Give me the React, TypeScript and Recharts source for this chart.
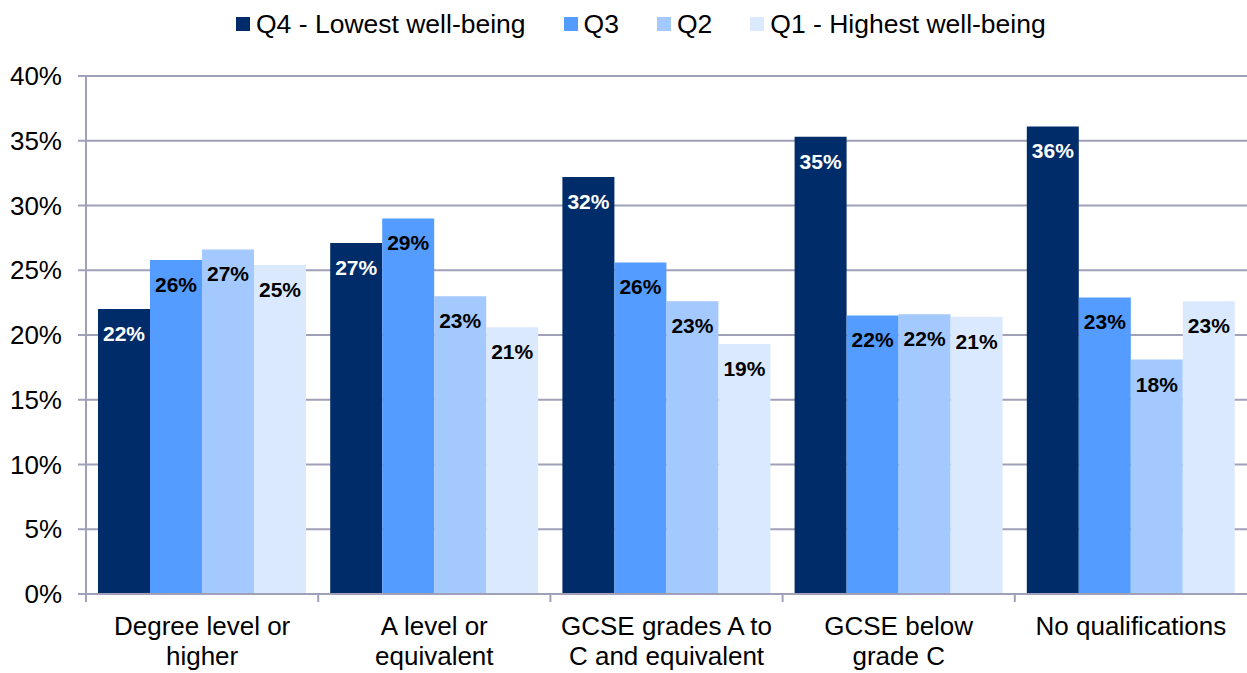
import { Bar, BarChart, CartesianGrid, LabelList, XAxis, YAxis } from 'recharts';

const categories = [
  'Degree level or higher',
  'A level or equivalent',
  'GCSE grades A to C and equivalent',
  'GCSE below grade C',
  'No qualifications'
];
const tickLines = [
  ['Degree level or', 'higher'],
  ['A level or', 'equivalent'],
  ['GCSE grades A to', 'C and equivalent'],
  ['GCSE below', 'grade C'],
  ['No qualifications']
];

const q4 = [22.0, 27.1, 32.2, 35.3, 36.1];
const q3 = [25.8, 29.0, 25.6, 21.5, 22.9];
const q2 = [26.6, 23.0, 22.6, 21.6, 18.1];
const q1 = [25.4, 20.6, 19.3, 21.4, 22.6];

const yTicks = [0, 5, 10, 15, 20, 25, 30, 35, 40];

const series = [
  { key: 'q4', name: 'Q4 - Lowest well-being', color: '#002C6A', labelColor: '#ffffff' },
  { key: 'q3', name: 'Q3', color: '#549CFF', labelColor: '#000000' },
  { key: 'q2', name: 'Q2', color: '#A3C9FF', labelColor: '#000000' },
  { key: 'q1', name: 'Q1 - Highest well-being', color: '#DBE9FF', labelColor: '#000000' }
];

const data = categories.map((category, i) => ({
  category,
  q4: q4[i],
  q3: q3[i],
  q2: q2[i],
  q1: q1[i]
}));

const FONT = '"Liberation Sans", Arial, sans-serif';
const GRID = '#A0A0B8';

const CategoryTick = (props: any) => {
  const { x, y, payload, index } = props;
  const half = payload && payload.offset ? payload.offset : 116;
  const lines = tickLines[index] || [String(payload.value)];
  return (
    <g>
      <line x1={x - half} x2={x - half} y1={y} y2={y + 8} stroke={GRID} strokeWidth={2} />
      {lines.map((l, i) => (
        <text key={i} x={x} y={y + 41 + i * 30} textAnchor="middle" fontSize={26} fontFamily={FONT} fill="#000">
          {l}
        </text>
      ))}
    </g>
  );
};

const Legendish = () => (
  <div
    style={{
      position: 'absolute',
      left: 236,
      top: 9,
      display: 'flex',
      alignItems: 'center',
      fontFamily: FONT,
      fontSize: 26.5,
      lineHeight: '30px',
      color: '#000',
      whiteSpace: 'nowrap'
    }}
  >
    {series.map((s, i) => (
      <div key={s.key} style={{ display: 'flex', alignItems: 'center', marginLeft: i === 0 ? 0 : 38 }}>
        <span style={{ width: 14, height: 14, background: s.color, marginRight: 6, display: 'inline-block' }} />
        <span>{s.name}</span>
      </div>
    ))}
  </div>
);

export default function App() {
  return (
    <div style={{ position: 'absolute', left: 0, top: 0, width: 1247, height: 673, background: '#fff', fontFamily: FONT }}>
      <BarChart
        width={1247}
        height={673}
        data={data}
        margin={{ top: 76, right: 0, bottom: 0, left: 0 }}
        barCategoryGap={12}
        barGap={0}
      >
        <CartesianGrid vertical={false} stroke={GRID} strokeWidth={2} />
        <XAxis
          dataKey="category"
          height={79}
          tickLine={false}
          tickSize={0}
          tickMargin={0}
          interval={0}
          axisLine={{ stroke: GRID, strokeWidth: 2 }}
          tick={<CategoryTick />}
        />
        <YAxis
          width={86}
          domain={[0, 40]}
          ticks={yTicks}
          interval={0}
          tickFormatter={(v: number) => `${v}%`}
          tickSize={8}
          tickMargin={16}
          axisLine={{ stroke: GRID, strokeWidth: 2 }}
          tickLine={{ stroke: GRID, strokeWidth: 2 }}
          tick={{ fontSize: 26, fill: '#000', fontFamily: FONT }}
        />
        {series.map((s) => (
          <Bar key={s.key} dataKey={s.key} name={s.name} fill={s.color} isAnimationActive={false}>
            <LabelList
              dataKey={s.key}
              position="insideTop"
              offset={17}
              formatter={(v: any) => `${Math.round(Number(v))}%`}
              style={{ fontSize: 21, fontWeight: 'bold', fontFamily: FONT, fill: s.labelColor }}
            />
          </Bar>
        ))}
      </BarChart>
      <Legendish />
    </div>
  );
}
